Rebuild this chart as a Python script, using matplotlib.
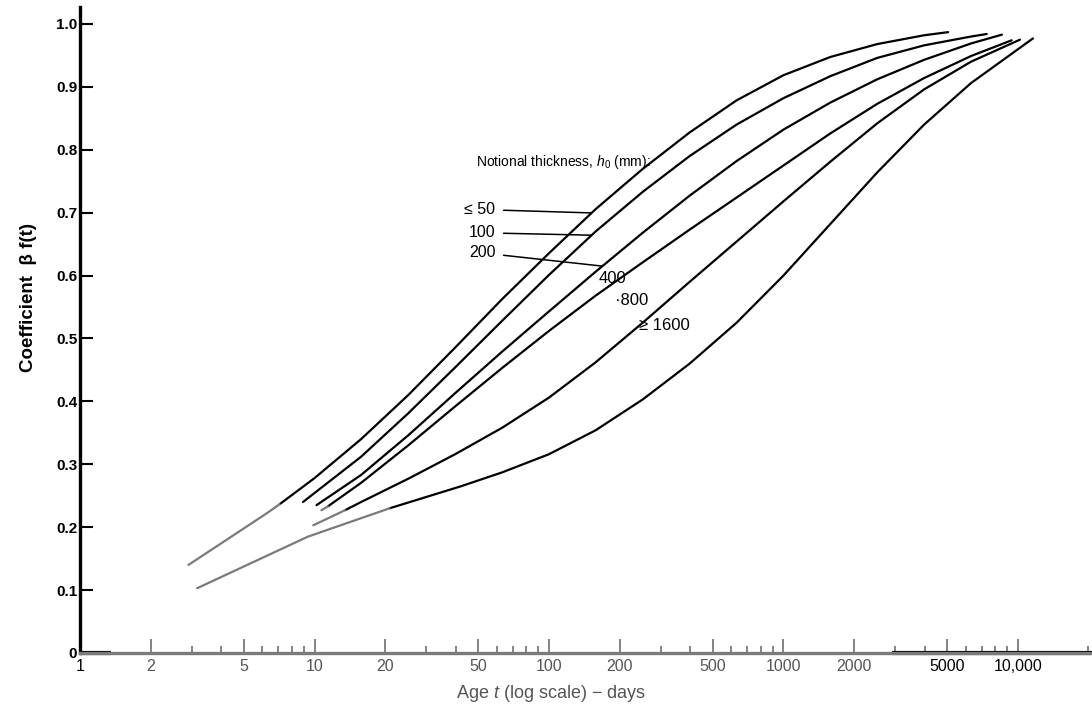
import numpy as np
import matplotlib.pyplot as plt

plt.rcParams['font.family'] = ['Liberation Sans', 'DejaVu Sans']
plt.rcParams['mathtext.fontset'] = 'custom'
plt.rcParams['mathtext.rm'] = 'Liberation Sans'
plt.rcParams['mathtext.it'] = 'Liberation Sans:italic'

# curves: age t (days) and coefficient beta_f(t)
t_50 = [2.9, 6.31, 7.1, 10, 15.8, 25.1, 39.8, 63.1, 100, 158, 251, 398, 631, 1000, 1585, 2512, 3981, 5040]
b_50 = [0.14, 0.223, 0.2365, 0.278, 0.34, 0.41, 0.4855, 0.5625, 0.6355, 0.7055, 0.7695, 0.8275,
        0.8785, 0.9185, 0.9475, 0.968, 0.982, 0.987]

t_100 = [8.93, 15.8, 25.1, 39.8, 63.1, 100, 158, 251, 398, 631, 1000, 1585, 2512, 3981, 6310, 7360]
b_100 = [0.24, 0.312, 0.381, 0.454, 0.528, 0.601, 0.67, 0.733, 0.79, 0.84, 0.882, 0.917,
         0.946, 0.966, 0.98, 0.984]

t_200 = [10.2, 15.8, 25.1, 39.8, 63.1, 100, 158, 251, 398, 631, 1000, 1585, 2512, 3981, 6310, 8550]
b_200 = [0.235, 0.283, 0.346, 0.413, 0.479, 0.543, 0.606, 0.668, 0.727, 0.782, 0.832, 0.875,
         0.912, 0.943, 0.969, 0.983]

t_400 = [10.7, 11.4, 15.8, 25.1, 39.8, 63.1, 100, 158, 251, 398, 631, 1000, 1585, 2512, 3981, 6310, 9400]
b_400 = [0.227, 0.233, 0.2705, 0.33, 0.392, 0.453, 0.512, 0.568, 0.621, 0.673, 0.724, 0.775,
         0.826, 0.873, 0.914, 0.949, 0.974]

t_800 = [9.88, 13.5, 15.8, 25.1, 39.8, 63.1, 100, 158, 251, 398, 631, 1000, 1585, 2512, 3981, 6310, 10200]
b_800 = [0.203, 0.227, 0.24, 0.277, 0.316, 0.358, 0.406, 0.462, 0.525, 0.59, 0.654, 0.718,
         0.781, 0.842, 0.896, 0.94, 0.975]

t_1600 = [3.16, 9.38, 20.9, 42.1, 63, 100, 158, 251, 398, 631, 1000, 1585, 2512, 3981, 6310, 11590]
b_1600 = [0.103, 0.185, 0.23, 0.265, 0.287, 0.316, 0.354, 0.403, 0.46, 0.525, 0.6, 0.682,
          0.764, 0.84, 0.906, 0.977]

curves = [(t_50, b_50), (t_100, b_100), (t_200, b_200),
          (t_400, b_400), (t_800, b_800), (t_1600, b_1600)]
# the faded (grey) start of some curves in the scan
gray_until = [7.1, 0, 0, 11.4, 13.5, 20.9]

x_ticks = [1, 2, 5, 10, 20, 50, 100, 200, 500, 1000, 2000, 5000, 10000]
x_labels = ['1', '2', '5', '10', '20', '50', '100', '200', '500', '1000', '2000', '5000', '10,000']
y_ticks = [0, 0.1, 0.2, 0.3, 0.4, 0.5, 0.6, 0.7, 0.8, 0.9, 1.0]
y_labels = ['0', '0.1', '0.2', '0.3', '0.4', '0.5', '0.6', '0.7', '0.8', '0.9', '1.0']

fig = plt.figure(figsize=(10.92, 7.11), dpi=100)
ax = fig.add_axes([0.0733, 0.0816, 0.9267, 0.9086])

grey = '#7a7a7a'
for (t, b), g in zip(curves, gray_until):
    t = np.array(t, dtype=float)
    b = np.array(b)
    dark = t >= g
    ax.plot(t[dark], b[dark], color='black', lw=1.6, solid_capstyle='round', solid_joinstyle='round')
    if g > 0:
        light = t <= g
        ax.plot(t[light], b[light], color=grey, lw=1.6, solid_capstyle='round')

ax.set_xscale('log')
ax.set_xlim(1, 20700)
ax.set_ylim(0, 1.027)

ax.set_xticks(x_ticks)
ax.set_xticklabels(x_labels, fontsize=11.5)
ax.xaxis.set_minor_locator(plt.matplotlib.ticker.LogLocator(base=10, subs=np.arange(2, 10)))
ax.xaxis.set_minor_formatter(plt.NullFormatter())
ax.tick_params(axis='x', which='major', direction='in', length=10, width=1.3, pad=4, colors=grey)
ax.tick_params(axis='x', which='minor', direction='in', length=5, width=1.3, colors=grey)
for lab in ax.get_xticklabels():
    if lab.get_text() in ('1', '5000', '10,000'):
        lab.set_color('black')
    else:
        lab.set_color('#555555')

ax.set_yticks(y_ticks)
ax.set_yticklabels(y_labels, fontsize=11, fontweight='bold')
ax.tick_params(axis='y', direction='in', length=9, width=1.5, pad=2, colors='black')

for s in ['top', 'right']:
    ax.spines[s].set_visible(False)
ax.spines['left'].set_linewidth(2.4)
ax.spines['bottom'].set_linewidth(2.4)
ax.spines['bottom'].set_color(grey)
# darker stretches of the baseline in the scan
ax.plot([1, 1.35], [0, 0], color='black', lw=3, clip_on=False, solid_capstyle='butt')
ax.plot([2900, 20700], [0, 0], color='black', lw=3, clip_on=False, solid_capstyle='butt')

ax.set_xlabel('Age $t$ (log scale) \u2212 days', fontsize=13, color='#555555')
ax.xaxis.set_label_coords(0.465, -0.047)
ax.set_ylabel('Coefficient  \u03b2 f(t)', fontsize=13.5, fontweight='bold')
ax.yaxis.set_label_coords(-0.043, 0.55)

ax.text(49, 0.78, 'Notional thickness, $h_0$ (mm):', fontsize=10, ha='left', va='center')

def on_curve(t, b, tq):
    return np.interp(np.log10(tq), np.log10(t), b)

lead = dict(arrowstyle='-', color='black', lw=1.1, shrinkA=4, shrinkB=0)
ax.annotate('\u2264 50', xy=(152, on_curve(t_50, b_50, 152)), xytext=(59, 0.705),
            fontsize=11.5, ha='right', va='center', arrowprops=lead)
ax.annotate('100', xy=(152, on_curve(t_100, b_100, 152)), xytext=(59, 0.668),
            fontsize=11.5, ha='right', va='center', arrowprops=lead)
ax.annotate('200', xy=(169, on_curve(t_200, b_200, 169)), xytext=(59, 0.636),
            fontsize=11.5, ha='right', va='center', arrowprops=lead)
ax.text(186, 0.596, '400', fontsize=12, ha='center', va='center')
ax.text(225, 0.561, '\u00b7800', fontsize=12, ha='center', va='center')
ax.text(310, 0.521, '\u2265 1600', fontsize=12, ha='center', va='center')

fig.savefig('out.png', dpi=100)
